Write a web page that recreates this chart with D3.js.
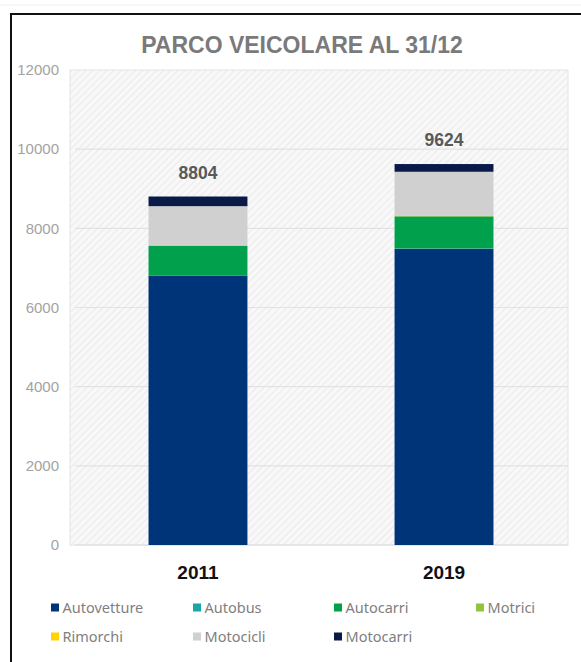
<!DOCTYPE html>
<html>
<head>
<meta charset="utf-8">
<script src="https://cdn.jsdelivr.net/npm/d3@7"></script>
<style>
html,body{margin:0;padding:0;background:#fff;}
svg{display:block;}
</style>
</head>
<body>
<svg id="chart" width="581" height="662"></svg>
<script>
const years = ["2011", "2019"];
const seriesNames = ["Autovetture", "Autobus", "Autocarri", "Motrici", "Rimorchi", "Motocicli", "Motocarri"];
const autovetture = [6810, 7480];
const autobus = [10, 12];
const autocarri = [740, 810];
const motrici = [5, 6];
const rimorchi = [5, 6];
const motocicli = [990, 1115];
const motocarri = [244, 195];
const totals = [8804, 9624];
const yTicks = [0, 2000, 4000, 6000, 8000, 10000, 12000];
const colors = ["#003479", "#1aa6a6", "#00a04c", "#92c33c", "#ffd400", "#d0d0d0", "#0a1a48"];

const seriesValues = [autovetture, autobus, autocarri, motrici, rimorchi, motocicli, motocarri];
const table = years.map((y, i) => {
  const row = {year: y};
  seriesNames.forEach((s, k) => row[s] = seriesValues[k][i]);
  return row;
});

const svg = d3.select("#chart");
const defs = svg.append("defs");
const pat = defs.append("pattern").attr("id", "hatch").attr("patternUnits", "userSpaceOnUse")
  .attr("width", 5).attr("height", 5).attr("patternTransform", "rotate(45)");
pat.append("rect").attr("width", 5).attr("height", 5).attr("fill", "#f8f8f8");
pat.append("line").attr("x1", 0).attr("y1", 0).attr("x2", 0).attr("y2", 5)
  .attr("stroke", "#e9e9e9").attr("stroke-width", 1.8);

// outer frame
svg.append("line").attr("x1", 0).attr("x2", 581).attr("y1", 5).attr("y2", 5).attr("stroke", "#f0f0f0");
svg.append("rect").attr("x", 11).attr("y", 14).attr("width", 600).attr("height", 700)
  .attr("fill", "#fff").attr("stroke", "#111").attr("stroke-width", 2);

const plot = {left: 70, right: 568, top: 70, bottom: 545};

svg.append("rect").attr("x", plot.left).attr("y", plot.top)
  .attr("width", plot.right - plot.left).attr("height", plot.bottom - plot.top)
  .attr("fill", "url(#hatch)").attr("stroke", "#e4e4e4").attr("stroke-width", 1);

const y = d3.scaleLinear().domain([0, 12000]).range([plot.bottom, plot.top]);
const x = d3.scaleBand().domain(years).range([plot.left + 3, plot.right + 1]).paddingInner(0.598).paddingOuter(0.307);

// gridlines
svg.append("g").selectAll("line").data(yTicks.filter(t => t > 0 && t < 12000)).join("line")
  .attr("x1", plot.left + 5).attr("x2", plot.right)
  .attr("y1", d => y(d)).attr("y2", d => y(d))
  .attr("stroke", "#e2e2e2").attr("stroke-width", 1.2);
svg.append("line").attr("x1", plot.left + 5).attr("x2", plot.right)
  .attr("y1", y(0)).attr("y2", y(0)).attr("stroke", "#dcdcdc").attr("stroke-width", 1.2);

// y axis labels
const yAxis = d3.axisLeft(y).tickValues(yTicks).tickSize(0).tickPadding(0).tickFormat(d3.format("d"));
const ya = svg.append("g").attr("transform", `translate(59,0)`).call(yAxis);
ya.select(".domain").remove();
ya.selectAll("text").attr("font-family", "Liberation Sans, Arial, sans-serif")
  .attr("font-size", 15).attr("fill", "#a3a3a3");

// stacks
const stack = d3.stack().keys(seriesNames);
const stacked = stack(table);
svg.append("g").selectAll("g").data(stacked).join("g")
  .attr("fill", (d, i) => colors[i])
  .selectAll("rect").data(d => d).join("rect")
  .attr("x", d => x(d.data.year))
  .attr("width", x.bandwidth())
  .attr("y", d => y(d[1]))
  .attr("height", d => Math.max(0, y(d[0]) - y(d[1])));

// totals
svg.append("g").selectAll("text").data(years).join("text")
  .attr("x", d => x(d) + x.bandwidth() / 2)
  .attr("y", (d, i) => y(totals[i]) - 18)
  .attr("text-anchor", "middle")
  .attr("font-family", "Liberation Sans, Arial, sans-serif")
  .attr("font-weight", "bold").attr("font-size", 17.5).attr("fill", "#595959")
  .text((d, i) => totals[i]);

// x axis labels
const xAxis = d3.axisBottom(x).tickSize(0).tickPadding(0);
const xa = svg.append("g").attr("transform", `translate(0,${plot.bottom + 20})`).call(xAxis);
xa.select(".domain").remove();
xa.selectAll("text").attr("font-family", "Liberation Sans, Arial, sans-serif")
  .attr("font-weight", "bold").attr("font-size", 19).attr("fill", "#111");

// title
svg.append("text").attr("x", 302).attr("y", 53).attr("text-anchor", "middle")
  .attr("font-family", "Liberation Sans, Arial, sans-serif").attr("font-weight", "bold")
  .attr("font-size", 23).attr("fill", "#7a7a7a").text("PARCO VEICOLARE AL 31/12");

// legend
const legX = [51, 193, 334, 476];
const legY = [608, 637];
const leg = svg.append("g").selectAll("g").data(seriesNames).join("g")
  .attr("transform", (d, i) => `translate(${legX[i % 4]},${legY[Math.floor(i / 4)]})`);
leg.append("rect").attr("x", 0).attr("y", -4.5).attr("width", 8).attr("height", 8)
  .attr("fill", (d, i) => colors[i]);
leg.append("text").attr("x", 11.5).attr("y", 0).attr("dy", "0.36em")
  .attr("font-family", "Noto Sans, Open Sans, sans-serif").attr("font-size", 14.5)
  .attr("fill", "#7f7f7f").text(d => d);
</script>
</body>
</html>
